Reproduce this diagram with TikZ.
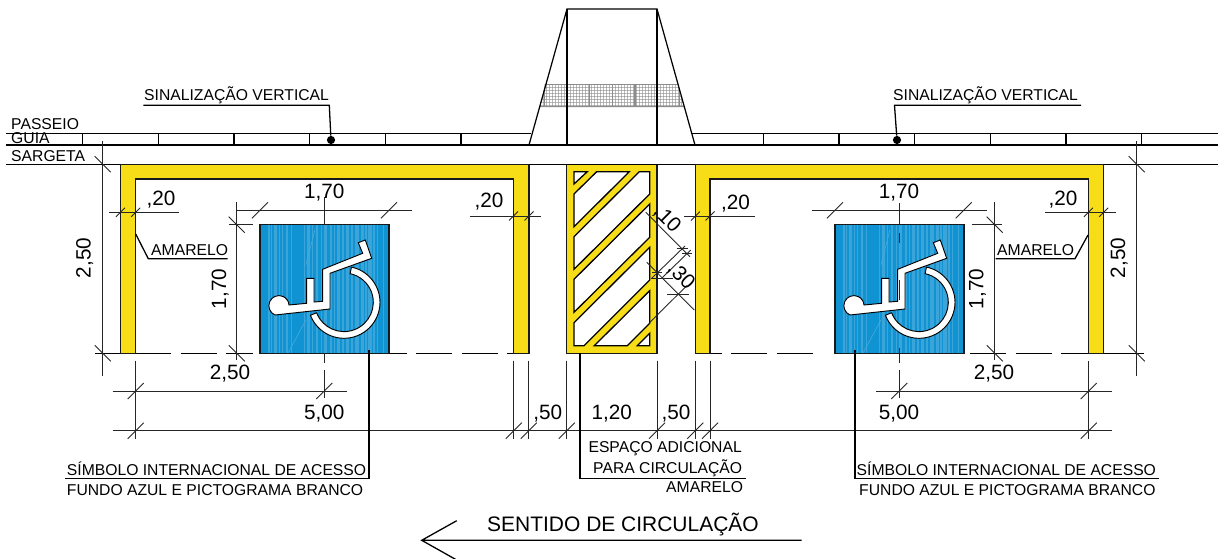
\documentclass[tikz,border=0pt]{standalone}
\usepackage{fontspec}
\setmainfont{Liberation Sans}
\definecolor{amar}{HTML}{F6DD18}
\definecolor{azul}{HTML}{0F93D3}
\definecolor{azulc}{HTML}{4BABDC}
\definecolor{malha}{HTML}{8C8C8C}
\tikzset{
  txt/.style={font=\fontsize{13.4}{15}\selectfont,inner sep=0pt,anchor=base west},
  dimt/.style={font=\fontsize{17.7}{19}\selectfont,inner sep=0pt,anchor=base},
  big/.style={font=\fontsize{17.9}{20}\selectfont,inner sep=0pt,anchor=base west},
  thin line/.style={line width=.75pt,black!85},
  lead/.style={line width=1.1pt,black},
  strong/.style={line width=1.05pt,black},
  dash line/.style={line width=.8pt,black,dash pattern=on 31pt off 8pt},
  yellowbox/.style={fill=amar,draw=black!90,line width=1pt},
  window/.style={fill=white,draw=black,line width=1.1pt,line join=miter},
}
\newcommand{\tkS}[3]{\draw[thin line] (#1-#3,#2+#3) -- (#1+#3,#2-#3);}
\newcommand{\tkB}[3]{\draw[thin line] (#1-#3,#2-#3) -- (#1+#3,#2+#3);}
\newcommand{\wheel}[2]{%
 \begin{scope}[shift={(#1,224.7)}]
  \fill[azul] (0,0) rectangle (129,128.5);
  \foreach \sx/\sw in {8/2,11/1,14/3,19/1,22/1,26/2,31/1,44/1,47/3,52/1,56/2,61/1,64/3,70/2,74/1,77/3,82/2,86/3,91/2,95/4,101/3,105/2,108/4,113/2,117/1,123/1}{
    \fill[azulc,opacity=.75] (\sx,0) rectangle ++(\sw,128.5);}
  \draw[azulc,line width=.5pt] (28,128.5) -- (46,95) (46,40) -- (55,5);
  \draw[black!90,line width=1pt] (0,0) rectangle (129,128.5);
  \draw[fill=white,draw=black,line width=.8pt,line join=miter]
    (15,90.3) arc (113:356:10.1) -- (46.7,78.6) -- (46.7,53.6) -- (54,53.6) -- (54,77.3)
    -- (62.7,76.6) -- (62.7,44.6) -- (102.7,28.6) -- (98.3,18) -- (105.3,15.3)
    -- (111.7,33.6) -- (70,48.6) -- (70,84.3) -- cycle;
  \draw[fill=white,draw=black,line width=.8pt,line join=miter]
    (84,77.6) ++(-78:36) arc (-78:159:36) -- (56.65,88.1) arc (159:-78:29.3) -- cycle;
 \end{scope}}
\begin{document}
\begin{tikzpicture}[x=.03cm,y=-.03cm]
\useasboundingbox (0,0) rectangle (1221,559);
\fill[white] (0,0) rectangle (1221,559);

% sign band and trapezoid
\begin{scope}
  \clip (545,84) -- (678,84) -- (684,107) -- (540,107) -- cycle;
  \fill[white] (535,84) rectangle (690,107);
  \foreach \gx in {540,543,...,690}{\draw[malha,line width=.8pt,opacity=.6] (\gx,84) -- (\gx,107);}
  \foreach \gy in {84.5,87.5,...,107}{\draw[malha,line width=.8pt,opacity=.6] (535,\gy) -- (690,\gy);}
  \foreach \gx in {544.4,567,589.6,612.2,634.8,657,679.6}{\draw[malha,line width=1.2pt] (\gx,84) -- (\gx,107);}
  \draw[malha,line width=1.4pt] (535,84) -- (690,84) (535,107) -- (690,107);
\end{scope}
\draw[strong] (529,145) -- (567,9) -- (657,9) -- (695,145);
\draw[strong] (567,9) -- (567,145) (657,9) -- (657,145);

% kerb and gutter
\draw[strong] (6,133.7) -- (531,133.7) (692,133.7) -- (1218,133.7);
\draw[strong] (6,145) -- (1218,145);
\foreach \tx in {82.7,158.3,234,309.6,385.2,461}{\draw[strong] (\tx,133.7) -- (\tx,145);}
\foreach \tx in {763.4,839,914.7,990.3,1066,1141.7}{\draw[strong] (\tx,133.7) -- (\tx,145);}

% blue squares
\wheel{260}{0}
\wheel{835}{0}

% dashed limit
\draw[dash line] (135,353.3) -- (253,353.3);
\draw[dash line,dash phase=16pt] (389,353.3) -- (514,353.3);
\draw[dash line,dash phase=21pt] (710,353.3) -- (818,353.3);
\draw[dash line,dash phase=34pt] (964,353.3) -- (1089,353.3);
\draw[line width=.8pt] (95,353.3) -- (120,353.3) (1104,353.3) -- (1144,353.3);

% yellow frames
\draw[yellowbox,line join=miter] (120.5,353.3) -- (120.5,164.5) -- (529,164.5) -- (529,353.3) -- (513.6,353.3) -- (513.6,179) -- (135.6,179) -- (135.6,353.3) -- cycle;
\draw[yellowbox,line join=miter] (695.4,353.3) -- (695.4,164.5) -- (1103.7,164.5) -- (1103.7,353.3) -- (1088.4,353.3) -- (1088.4,179) -- (710,179) -- (710,353.3) -- cycle;
\draw[yellowbox] (566.8,164.5) rectangle (657,353.3);
\draw[window] (574,171.7) -- (587.3,171.7) -- (574,184) -- cycle;
\draw[window] (596.7,171.7) -- (629.3,171.7) -- (574,226.7) -- (574,194) -- cycle;
\draw[window] (639.3,171.7) -- (649.7,171.7) -- (649.7,194) -- (574,269.3) -- (574,236.7) -- cycle;
\draw[window] (649.7,204) -- (649.7,237.3) -- (574,312.3) -- (574,279.3) -- cycle;
\draw[window] (649.7,247.3) -- (649.7,280) -- (584,345.7) -- (574,345.7) -- (574,322.7) -- cycle;
\draw[window] (649.7,290.7) -- (649.7,323.3) -- (627.3,345.7) -- (594.3,345.7) -- cycle;
\draw[window] (649.7,333.3) -- (649.7,345.7) -- (637.3,345.7) -- cycle;
\draw[strong] (6,164.2) -- (120,164.2) (529,164.2) -- (695,164.2) (1104,164.2) -- (1218,164.2);

% left dimensions
\draw[thin line] (102.7,141) -- (102.7,376);
\tkB{102.7}{164.2}{8}\tkB{102.7}{353.3}{8}
\draw[thin line] (109,212.3) -- (179,212.3);
\tkS{120.5}{212.3}{4.5}\tkS{135.6}{212.3}{4.5}
\draw[thin line] (236.7,210.3) -- (412,210.3);
\tkS{260}{210.3}{8}\tkS{389}{210.3}{8}
\draw[thin line] (236.7,201.7) -- (236.7,360);
\draw[thin line] (229,224.7) -- (253,224.7);
\tkB{236.7}{224.7}{8}\tkB{236.7}{353.3}{8}
\draw[thin line] (324.3,197) -- (324.3,224);
\draw[thin line] (324.3,353) -- (324.3,363) (324.3,370) -- (324.3,398);
\tkS{324.3}{391}{8}
\draw[thin line] (112.7,391) -- (347.3,391);
\draw[thin line] (112.7,430.7) -- (1112,430.7);
\draw[thin line] (135.7,360.7) -- (135.7,439);
\tkS{135.7}{391}{8}\tkS{135.7}{430.7}{8}
\draw[thin line] (470,216) -- (540.7,216);
\tkS{513.6}{216}{4.5}\tkS{529}{216}{4.5}
\draw[thin line] (684,216) -- (755,216);
\tkS{695.4}{216}{4.5}\tkS{710}{216}{4.5}

% middle dimensions
\foreach \mx in {513.7,528.7,566.7,657,695.3,710}{
  \draw[thin line] (\mx,360.7) -- (\mx,439);
  \tkS{\mx}{430.7}{8}}
\draw[thin line] (645.7,212.3) -- (690,256.7);
\draw[thin line] (646.7,262.3) -- (694.3,310);
\draw[thin line] (651.7,278.3) -- (685,246);
\draw[thin line] (661.7,278.3) -- (690.7,250);
\draw[thin line] (649,323.3) -- (686.7,285.7);
\draw[thin line] (676.7,248.3) -- (688,248.3);
\draw[thin line] (682,253.3) -- (691.5,253.3);
\draw[thin line] (651,278.3) -- (673.3,278.3);
\draw[thin line] (652,272.8) -- (662,272.8);
\draw[thin line] (667,294) -- (689,294);

% right dimensions
\draw[thin line] (1136.7,141) -- (1136.7,376);
\tkB{1136.7}{164.2}{8}\tkB{1136.7}{353.3}{8}
\draw[thin line] (1045,212.3) -- (1115.7,212.3);
\tkS{1088.4}{212.3}{4.5}\tkS{1103.7}{212.3}{4.5}
\draw[thin line] (812,210.3) -- (986.7,210.3);
\tkS{835}{210.3}{8}\tkS{963.7}{210.3}{8}
\draw[thin line] (994.7,201.7) -- (994.7,360);
\draw[thin line] (971.7,224.7) -- (1002,224.7);
\tkB{994.7}{224.7}{8}\tkB{994.7}{353.3}{8}
\draw[thin line] (899.3,203) -- (899.3,224);
\draw[thin line] (899.3,233) -- (899.3,243) (899.3,280) -- (899.3,300);
\draw[thin line] (899.3,348) -- (899.3,363) (899.3,370) -- (899.3,398);
\tkS{899.3}{391}{8}
\draw[thin line] (876,391) -- (1112,391);
\draw[thin line] (1088.7,361) -- (1088.7,439);
\tkS{1088.7}{391}{8}\tkS{1088.7}{430.7}{8}

% labels
\node[txt] (passeio) at (11,129) {PASSEIO};
\node[txt] (guia) at (11,143.5) {GUIA};
\draw[strong] (6,133.7) -- (82,133.7);
\node[txt] (sarjeta) at (11,161.5) {SARGETA};
\node[txt] (sv1) at (144,100.5) {SINALIZAÇÃO VERTICAL};
\node[txt] (sv2) at (893,100.5) {SINALIZAÇÃO VERTICAL};
\node[txt] (am1) at (151,255.7) {AMARELO};
\node[txt] (am2) at (997,255.7) {AMARELO};
\node[txt] (sim1) at (66.7,475.7) {SÍMBOLO INTERNACIONAL DE ACESSO};
\node[txt] (fun1) at (66.7,495) {FUNDO AZUL E PICTOGRAMA BRANCO};
\node[txt] (sim2) at (856.5,475.7) {SÍMBOLO INTERNACIONAL DE ACESSO};
\node[txt] (fun2) at (859,495) {FUNDO AZUL E PICTOGRAMA BRANCO};
\node[txt] (esp1) at (588.3,452.3) {ESPAÇO ADICIONAL};
\node[txt] (esp2) at (593,473.3) {PARA CIRCULAÇÃO};
\node[txt] (esp3) at (666,492.7) {AMARELO};
\node[big] (sent) at (487,531) {SENTIDO DE CIRCULAÇÃO};

\node[dimt] (d01) at (324.3,198.3) {1,70};
\node[dimt] (d02) at (899,198.3) {1,70};
\node[dimt] (d03) at (161,205.7) {,20};
\node[dimt] (d04) at (489,207.5) {,20};
\node[dimt] (d05) at (735.5,209.3) {,20};
\node[dimt] (d06) at (1063,205.7) {,20};
\node[dimt,rotate=90] (d07) at (90.7,258) {2,50};
\node[dimt,rotate=90] (d08) at (1125,258) {2,50};
\node[dimt,rotate=90] (d09) at (226,289) {1,70};
\node[dimt,rotate=90] (d10) at (983.3,289) {1,70};
\node[dimt] (d11) at (230,379.3) {2,50};
\node[dimt] (d12) at (994,379.3) {2,50};
\node[dimt] (d13) at (324.3,419) {5,00};
\node[dimt] (d14) at (899,419) {5,00};
\node[dimt] (d15) at (547.7,419) {,50};
\node[dimt] (d16) at (611.7,419) {1,20};
\node[dimt] (d17) at (676,419) {,50};
\node[dimt,rotate=-45,anchor=center] (d18) at (667,219) {,10};
\node[dimt,rotate=-45,anchor=center] (d19) at (681,276) {,30};

% leaders
\node[circle,fill=black,inner sep=0pt,minimum size=7pt] (dot1) at (331,140) {};
\node[circle,fill=black,inner sep=0pt,minimum size=7pt] (dot2) at (897,140) {};
\coordinate (s1a) at (143.3,105.3);
\coordinate (s1b) at (329.3,105.3);
\coordinate (s2a) at (1081,105.3);
\coordinate (s2b) at (894.5,105.3);
\draw[lead] (s1a) -- (s1b) -- (dot1);
\draw[lead] (s2a) -- (s2b) -- (dot2);
\coordinate (a1a) at (135.7,234);
\coordinate (a1b) at (148.3,258.7);
\coordinate (a1c) at (227.7,258.7);
\draw[lead] (a1a) -- (a1b) -- (a1c);
\coordinate (a2a) at (1088,235);
\coordinate (a2b) at (1075,258.7);
\coordinate (a2c) at (995.7,258.7);
\draw[lead] (a2a) -- (a2b) -- (a2c);
\coordinate (l1a) at (369,350);
\coordinate (l1b) at (369,478.7);
\coordinate (l1c) at (65,478.7);
\draw[lead] (l1a) -- (l1b) -- (l1c);
\coordinate (l2a) at (855,350);
\coordinate (l2b) at (855,478.7);
\coordinate (l2c) at (1159,478.7);
\draw[lead] (l2a) -- (l2b) -- (l2c);
\coordinate (l3a) at (580,353);
\coordinate (l3b) at (580,478.7);
\coordinate (l3c) at (745.7,478.7);
\draw[lead] (l3a) -- (l3b) -- (l3c);

% direction arrow
\coordinate (t) at (421.7,540.3);
\coordinate (te) at (801.7,540.3);
\coordinate (b1) at (456.7,520.7);
\coordinate (b2) at (456.7,560);
\draw[lead] (te) -- (t) (b1) -- (t) -- (b2);
\end{tikzpicture}
\end{document}
